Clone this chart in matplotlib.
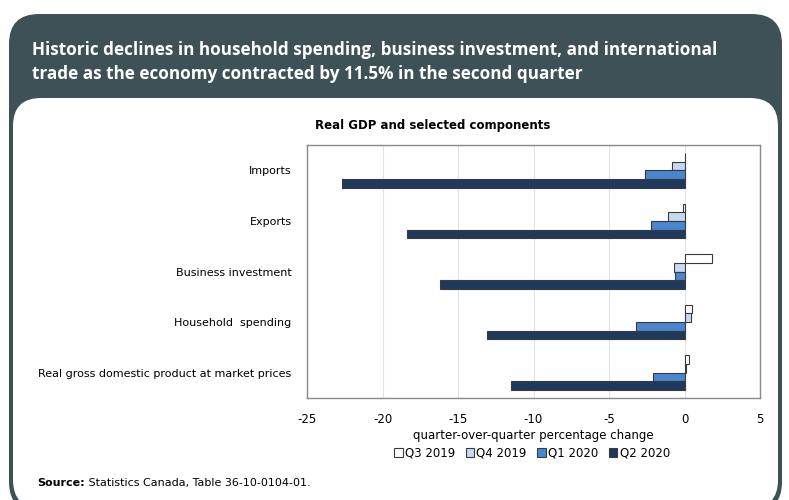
import matplotlib.pyplot as plt
from matplotlib.patches import FancyBboxPatch, Patch
import numpy as np

# data (quarter-over-quarter % change)
categories = ["Imports", "Exports", "Business investment", "Household  spending",
              "Real gross domestic product at market prices"]
quarters = ["Q3 2019", "Q4 2019", "Q1 2020", "Q2 2020"]
q3_2019 = [0.0, -0.1, 1.8, 0.5, 0.3]
q4_2019 = [-0.8, -1.1, -0.7, 0.4, 0.1]
q1_2020 = [-2.6, -2.2, -0.6, -3.2, -2.1]
q2_2020 = [-22.7, -18.4, -16.2, -13.1, -11.5]
series = [q3_2019, q4_2019, q1_2020, q2_2020]
colors = ["#ffffff", "#c6d9f1", "#4a86d0", "#1f3a5c"]
xticks = [-25, -20, -15, -10, -5, 0, 5]

W, H = 789, 500
fig = plt.figure(figsize=(W / 100, H / 100), dpi=100)

def fx(px):
    return px / W

def fy(py):
    return 1 - py / H

dark = "#3e5156"
# background panels, in display pixels (origin bottom-left)
outer = FancyBboxPatch((9, -12), 773, 498, boxstyle="round,pad=0,rounding_size=30",
                       transform=None, facecolor=dark, edgecolor="none", zorder=0)
inner = FancyBboxPatch((13, -8), 765, 410, boxstyle="round,pad=0,rounding_size=28",
                       transform=None, facecolor="white", edgecolor="none", zorder=1)
fig.patches.extend([outer, inner])

fig.text(fx(32), fy(50), "Historic declines in household spending, business investment, and international",
         color="white", fontsize=12.3, fontweight="bold", family="Open Sans", va="center")
fig.text(fx(32), fy(74), "trade as the economy contracted by 11.5% in the second quarter",
         color="white", fontsize=12.3, fontweight="bold", family="Open Sans", va="center")

ax = fig.add_axes([fx(307), fy(398), fx(760 - 307), (398 - 145) / H])
ax.set_zorder(2)

y = np.arange(len(categories))
h = 0.17
offsets = [-1.5 * h, -0.5 * h, 0.5 * h, 1.5 * h]
for vals, off, c, lab in zip(series, offsets, colors, quarters):
    ax.barh(y + off, vals, height=h, color=c, edgecolor="#3a3a3a", linewidth=0.8,
            label=lab, zorder=3)

ax.set_xlim(-25, 5)
ax.set_ylim(len(categories) - 0.5, -0.5)
ax.set_xticks(xticks)
ax.set_xticklabels([str(t) for t in xticks], fontsize=8.5)
ax.set_yticks(y)
ax.set_yticklabels(categories, fontsize=8)
ax.tick_params(length=0, pad=11)
ax.grid(axis="x", color="#e4e4e4", linewidth=0.8, zorder=0)
for s in ax.spines.values():
    s.set_color("#8a8a8a")
    s.set_linewidth(1)
ax.set_xlabel("quarter-over-quarter percentage change", fontsize=8.5, labelpad=2)

fig.text(fx(433), fy(125), "Real GDP and selected components", fontsize=8.5,
         fontweight="bold", ha="center", va="center", zorder=3)

handles = [Patch(facecolor=c, edgecolor="#3a3a3a", linewidth=0.8) for c in colors]
fig.legend(handles, quarters, loc="center", bbox_to_anchor=(fx(532), fy(453)), ncol=4,
           frameon=False, fontsize=8.5, handlelength=0.7, handleheight=0.7,
           handletextpad=0.2, columnspacing=0.9)

t1 = fig.text(fx(37), fy(483), "Source:", fontsize=8, fontweight="bold", va="center", zorder=3)
ax.annotate(" Statistics Canada, Table 36-10-0104-01.", xy=(1, 0.5), xycoords=t1,
            va="center", fontsize=8, annotation_clip=False)

fig.savefig("out.png", dpi=100)
